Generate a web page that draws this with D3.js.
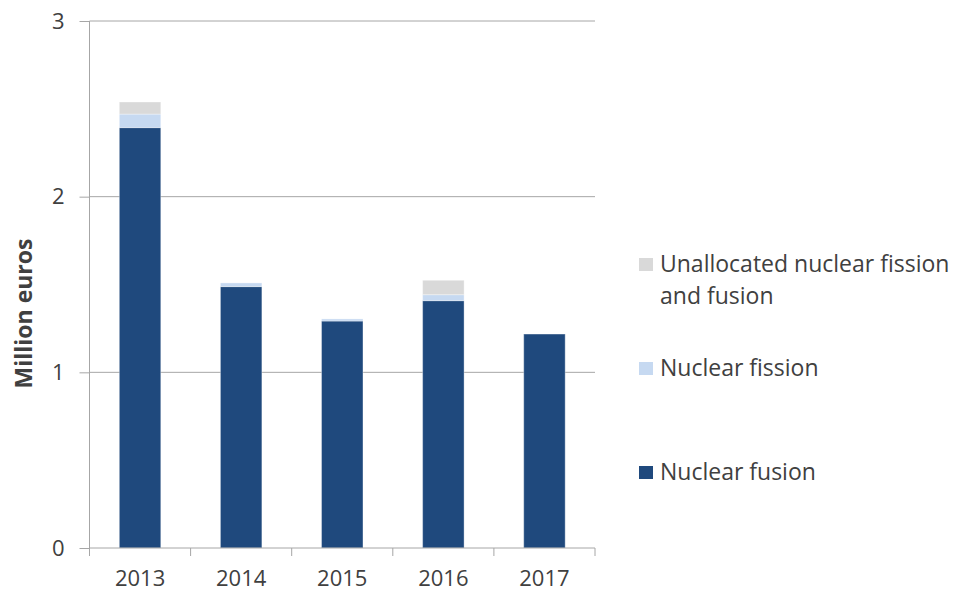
<!DOCTYPE html>
<html>
<head>
<meta charset="utf-8">
<script src="https://cdn.jsdelivr.net/npm/d3@7"></script>
<style>
  body { margin: 0; background: #fff; }
  text { font-family: "Open Sans", sans-serif; fill: #404040; }
</style>
</head>
<body>
<svg id="chart" width="957" height="594"></svg>
<script>
// chart data (million euros)
const years = ["2013", "2014", "2015", "2016", "2017"];
const fusion = [2.393, 1.488, 1.292, 1.408, 1.218];
const fission = [0.077, 0.021, 0.012, 0.034, 0];
const unallocated = [0.069, 0, 0, 0.082, 0];
const seriesNames = ["Nuclear fusion", "Nuclear fission", "Unallocated nuclear fission and fusion"];
const seriesColors = ["#1f497d", "#c6d9f1", "#d9d9d9"];
const yTicks = [0, 1, 2, 3];

const svg = d3.select("#chart");
const plotLeft = 89.5, plotRight = 595, plotTop = 21, plotBottom = 548;

const rows = years.map((y, i) => ({
  year: y,
  "Nuclear fusion": fusion[i],
  "Nuclear fission": fission[i],
  "Unallocated nuclear fission and fusion": unallocated[i]
}));
const stacked = d3.stack().keys(seriesNames)(rows);

const x = d3.scaleBand()
  .domain(years)
  .range([plotLeft, plotRight])
  .paddingInner(0.59)
  .paddingOuter(0.295);

const y = d3.scaleLinear()
  .domain([0, 3])
  .range([plotBottom, plotTop]);

// gridlines
svg.append("g")
  .selectAll("line")
  .data(yTicks.filter(d => d > 0))
  .join("line")
  .attr("x1", plotLeft)
  .attr("x2", plotRight)
  .attr("y1", d => y(d))
  .attr("y2", d => y(d))
  .attr("stroke", "#a6a6a6")
  .attr("stroke-width", 1);

// bars
svg.append("g")
  .selectAll("g")
  .data(stacked)
  .join("g")
  .attr("fill", (d, i) => seriesColors[i])
  .selectAll("rect")
  .data(d => d.filter(s => s[1] - s[0] > 0))
  .join("rect")
  .attr("x", d => x(d.data.year))
  .attr("y", d => y(d[1]))
  .attr("width", x.bandwidth())
  .attr("height", d => y(d[0]) - y(d[1]))
  .attr("stroke", "#ffffff")
  .attr("stroke-opacity", 0.35)
  .attr("stroke-width", 1);

// y axis
const yAxis = svg.append("g")
  .attr("transform", `translate(${plotLeft},0)`)
  .call(d3.axisLeft(y).tickValues(yTicks).tickSize(10).tickPadding(15).tickFormat(d3.format("d")));
yAxis.select(".domain").attr("stroke", "#a6a6a6").attr("d", `M0,${plotTop}V${plotBottom}`);
yAxis.selectAll(".tick line").attr("stroke", "#a6a6a6");
yAxis.selectAll(".tick text").style("font-size", "22px").attr("fill", "#404040");

// x axis with ticks on category boundaries
const xAxis = svg.append("g")
  .attr("transform", `translate(0,${plotBottom})`)
  .call(d3.axisBottom(x).tickSize(0).tickPadding(22));
xAxis.select(".domain").attr("stroke", "#a6a6a6").attr("d", `M${plotLeft},0H${plotRight}`);
xAxis.selectAll(".tick text").style("font-size", "22px").attr("fill", "#404040");
const step = x.step();
xAxis.append("g")
  .selectAll("line")
  .data(d3.range(years.length + 1))
  .join("line")
  .attr("x1", i => plotLeft + i * step)
  .attr("x2", i => plotLeft + i * step)
  .attr("y1", 0)
  .attr("y2", 8)
  .attr("stroke", "#a6a6a6");

// y title
svg.append("text")
  .attr("transform", `translate(32,${(plotTop + plotBottom) / 2 + 29}) rotate(-90)`)
  .attr("text-anchor", "middle")
  .style("font-size", "23px")
  .style("font-weight", "bold")
  .text("Million euros");

// legend (reverse order, top item is unallocated)
const legendItems = [
  { name: ["Unallocated nuclear fission", "and fusion"], color: seriesColors[2], y: 264 },
  { name: ["Nuclear fission"], color: seriesColors[1], y: 368 },
  { name: ["Nuclear fusion"], color: seriesColors[0], y: 472 }
];
const legend = svg.append("g");
const item = legend.selectAll("g")
  .data(legendItems)
  .join("g")
  .attr("transform", d => `translate(639,${d.y})`);
item.append("rect")
  .attr("x", 0)
  .attr("y", -6)
  .attr("width", 14)
  .attr("height", 13)
  .attr("fill", d => d.color);
item.append("text")
  .attr("x", 21)
  .attr("y", 8)
  .style("font-size", "23px")
  .selectAll("tspan")
  .data(d => d.name)
  .join("tspan")
  .attr("x", 21)
  .attr("dy", (d, i) => i === 0 ? 0 : 32)
  .text(d => d);
</script>
</body>
</html>
